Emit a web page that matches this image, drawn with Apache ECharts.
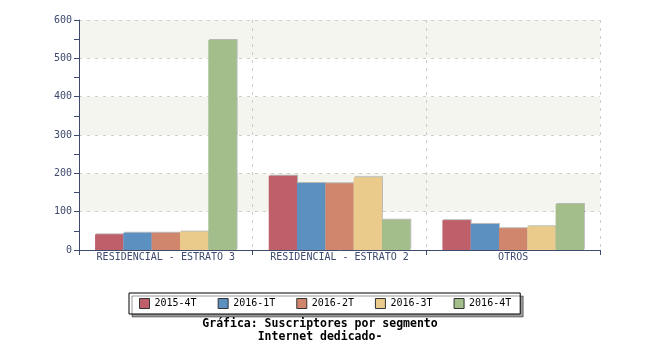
<!DOCTYPE html>
<html>
<head>
<meta charset="utf-8">
<script src="https://cdn.jsdelivr.net/npm/echarts@6/dist/echarts.min.js"></script>
<style>
  html, body { margin: 0; padding: 0; background: #fff; }
  #chart { width: 650px; height: 350px; }
</style>
</head>
<body>
<div id="chart"></div>
<script>
// Subscribers per segment, dedicated internet
const categories = ['RESIDENCIAL - ESTRATO 3', 'RESIDENCIAL - ESTRATO 2', 'OTROS'];
const periods = ['2015-4T', '2016-1T', '2016-2T', '2016-3T', '2016-4T'];
const v2015_4T = [41, 194, 78];
const v2016_1T = [45, 175, 68];
const v2016_2T = [45, 174, 57];
const v2016_3T = [48, 190, 62];
const v2016_4T = [548, 79, 120];
const yTicks = [0, 100, 200, 300, 400, 500, 600];
const titleLines = ['Gráfica: Suscriptores por segmento', 'Internet dedicado-'];

const seriesValues = [v2015_4T, v2016_1T, v2016_2T, v2016_3T, v2016_4T];
const colors = ['#bf5f69', '#5b90c1', '#d0866c', '#ebcb8b', '#a3be8a'];
const axisColor = '#3e4a6e';
const font = '"DejaVu Sans Mono", monospace';

const chart = echarts.init(document.getElementById('chart'));
chart.setOption({
  animation: false,
  backgroundColor: '#ffffff',
  color: colors,
  grid: { left: 79, right: 50, top: 20, bottom: 100, containLabel: false },
  graphic: titleLines.map((line, i) => ({
    type: 'text',
    x: 320, y: 324 + i * 13,
    style: {
      text: line,
      textAlign: 'center', textVerticalAlign: 'middle',
      fontFamily: font, fontSize: 11.5, fontWeight: 'bold', fill: '#000'
    }
  })),
  legend: {
    data: periods,
    left: 129, top: 293, width: 400,
    orient: 'horizontal',
    padding: [5, 9, 5, 10],
    itemGap: 21,
    itemWidth: 10, itemHeight: 10,
    icon: 'rect',
    borderColor: '#000', borderWidth: 1,
    backgroundColor: '#fff',
    shadowColor: 'rgba(0,0,0,0.4)', shadowBlur: 0, shadowOffsetX: 3, shadowOffsetY: 3,
    itemStyle: { borderColor: '#333', borderWidth: 1 },
    textStyle: { fontFamily: font, fontSize: 10, color: '#000' }
  },
  xAxis: {
    type: 'category',
    data: categories,
    boundaryGap: true,
    axisLine: { lineStyle: { color: axisColor, width: 1 } },
    axisTick: { show: true, length: 5, interval: 0, lineStyle: { color: axisColor } },
    axisLabel: { interval: 0, fontFamily: font, fontSize: 10, color: axisColor, margin: 2 },
    splitLine: { show: true, interval: 0, lineStyle: { color: '#cccccc', type: [3, 5] } }
  },
  yAxis: {
    type: 'value',
    min: yTicks[0], max: yTicks[yTicks.length - 1], interval: 100,
    axisLine: { show: true, lineStyle: { color: axisColor, width: 1 } },
    axisTick: { show: true, length: 5, lineStyle: { color: axisColor } },
    minorTick: { show: true, splitNumber: 2, length: 5, lineStyle: { color: axisColor } },
    axisLabel: { fontFamily: font, fontSize: 10, color: axisColor, margin: 7 },
    splitLine: { show: true, lineStyle: { color: '#cccccc', type: [3, 5] } },
    splitArea: { show: true, areaStyle: { color: ['#ffffff', '#f5f5f0'] } }
  },
  series: periods.map((name, i) => ({
    name: name,
    type: 'bar',
    data: seriesValues[i],
    barGap: '0%',
    barCategoryGap: '18.5%',
    itemStyle: {
      color: colors[i],
      shadowColor: 'rgba(0,0,0,0.25)', shadowBlur: 0, shadowOffsetX: 1, shadowOffsetY: -1
    }
  }))
});
</script>
</body>
</html>
